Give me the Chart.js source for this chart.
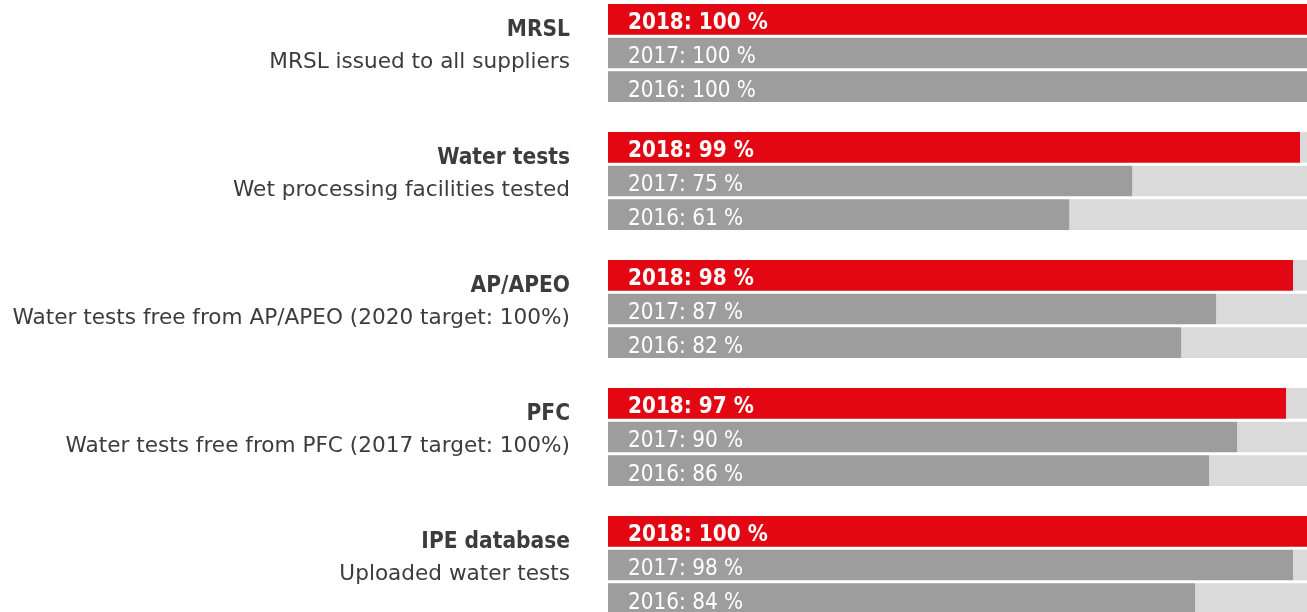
<!DOCTYPE html>
<html>
<head>
<meta charset="utf-8">
<script src="https://cdn.jsdelivr.net/npm/chart.js@4.4.0/dist/chart.umd.min.js"></script>
<style>
  html, body { margin: 0; padding: 0; background: #fff; overflow: hidden; }
  #wrap { position: absolute; left: 0; top: -11px; width: 1307px; height: 640px; }
</style>
</head>
<body>
<div id="wrap"><canvas id="c"></canvas></div>
<script>
const titles = ['MRSL', 'Water tests', 'AP/APEO', 'PFC', 'IPE database'];
const subtitles = [
  'MRSL issued to all suppliers',
  'Wet processing facilities tested',
  'Water tests free from AP/APEO (2020 target: 100%)',
  'Water tests free from PFC (2017 target: 100%)',
  'Uploaded water tests'
];
const years = ['2018', '2017', '2016'];
// bar lengths as drawn in the picture
const v2018 = [100, 99, 98, 97, 100];
const v2017 = [100, 75, 87, 90, 98];
const v2016 = [100, 66, 82, 86, 84];
// values printed in the bar labels
const t2018 = [100, 99, 98, 97, 100];
const t2017 = [100, 75, 87, 90, 98];
const t2016 = [100, 61, 82, 86, 84];
const maxValue = 100;

const RED = '#e30613', GRAY = '#9d9d9d', LIGHT = '#dadada', TEXT = '#3c3c3c';
const FONT = '"DejaVu Sans", sans-serif';
const FONT_C = '"DejaVu Sans Condensed", "DejaVu Sans", sans-serif';

const series = [v2018, v2017, v2016];
const texts = [t2018, t2017, t2016];
const colors = [RED, GRAY, GRAY];

const datasets = [];
series.forEach((vals, k) => {
  datasets.push({
    label: years[k], data: vals, backgroundColor: colors[k], stack: 's' + k,
    barPercentage: 0.91, categoryPercentage: 0.79, borderWidth: 0
  });
  datasets.push({
    label: years[k] + ' rest', data: vals.map(v => maxValue - v), backgroundColor: LIGHT, stack: 's' + k,
    barPercentage: 0.91, categoryPercentage: 0.79, borderWidth: 0
  });
});

const labelPlugin = {
  id: 'labels',
  afterDatasetsDraw(chart) {
    const ctx = chart.ctx;
    const ys = chart.scales.y;
    const left = chart.chartArea.left;
    ctx.save();
    ctx.textAlign = 'right';
    ctx.textBaseline = 'alphabetic';
    titles.forEach((t, i) => {
      const cy = ys.getPixelForValue(i);
      ctx.fillStyle = TEXT;
      ctx.font = 'bold 22.5px ' + FONT_C;
      ctx.fillText(t, left - 38, cy - 17);
      ctx.font = '21.6px ' + FONT;
      ctx.fillText(subtitles[i], left - 38, cy + 15);
    });
    ctx.textAlign = 'left';
    series.forEach((vals, k) => {
      const meta = chart.getDatasetMeta(k * 2);
      meta.data.forEach((bar, i) => {
        ctx.fillStyle = '#fff';
        ctx.font = (k === 0 ? 'bold ' : '') + '22.3px ' + FONT_C;
        ctx.fillText(years[k] + ': ' + texts[k][i] + ' %', left + 20, bar.y + 10);
      });
    });
    ctx.restore();
  }
};

new Chart(document.getElementById('c'), {
  type: 'bar',
  data: { labels: titles, datasets },
  options: {
    indexAxis: 'y',
    responsive: true,
    maintainAspectRatio: false,
    animation: false,
    layout: { padding: { left: 608, right: 0, top: 0, bottom: 0 } },
    plugins: { legend: { display: false }, tooltip: { enabled: false } },
    scales: {
      x: { stacked: true, min: 0, max: maxValue, display: false },
      y: { stacked: true, display: false }
    }
  },
  plugins: [labelPlugin]
});
</script>
</body>
</html>
